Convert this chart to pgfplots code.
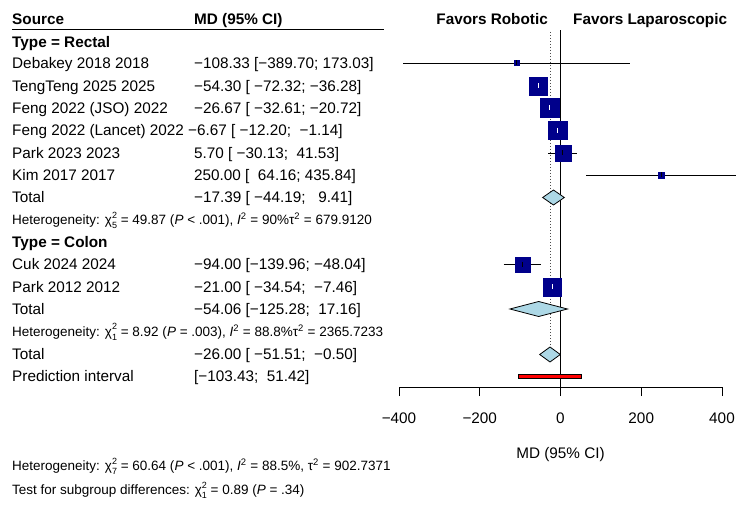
\documentclass[border=0pt]{standalone}
\usepackage{fontspec}
\setmainfont{Liberation Sans}
\usepackage{pgfplots}
\pgfplotsset{compat=1.18}

\definecolor{boxblue}{HTML}{00008B}
\definecolor{diamondblue}{HTML}{ADD8E6}

% chi-square style stacked super/subscript
\newcommand\supsub[2]{\rlap{\raisebox{0.48em}{\fontsize{9}{9}\selectfont #1}}\raisebox{-0.3em}{\fontsize{9}{9}\selectfont #2}}
\newcommand\mainfont{\fontsize{15.3}{18}\selectfont}
\newcommand\smallfont{\fontsize{13.5}{16}\selectfont}

% one study row: y, estimate, lower, upper, half box side, colour of the line inside the box
\newcommand\study[6]{%
  \addplot[black, line width=0.9pt] coordinates {(#3,#1) (#4,#1)};
  \addplot[only marks, mark=square*, mark size=#5pt,
           mark options={fill=boxblue, draw=boxblue}] coordinates {(#2,#1)};
  \addplot[#6, line width=0.9pt] coordinates {(#3,#1) (#4,#1)};
  \addplot[only marks, mark=|, mark size=2.5pt,
           mark options={draw=#6, line width=0.9pt}] coordinates {(#2,#1)};
}

\begin{document}
\begin{tikzpicture}[x=1pt, y=1pt]
\useasboundingbox (0,0) rectangle (750,512);

\begin{axis}[
  at={(399pt,125pt)}, anchor=south west,
  scale only axis, width=323pt, height=357pt,
  xmin=-400, xmax=400, ymin=125, ymax=482,
  clip=false,
  axis x line=bottom, axis y line=none,
  axis line style={-, black, line width=0.9pt},
  xtick={-400,-200,0,200,400},
  xticklabels={−400,−200,0,200,400},
  ytick=\empty,
  tick align=outside, major tick length=9pt,
  xtick style={black, line width=0.9pt},
  xticklabel style={font=\mainfont, inner sep=0pt, yshift=-17pt},
  xlabel={MD (95\% CI)},
  xlabel style={font=\mainfont, at={(axis description cs:0.5,0)}, anchor=center, yshift=-68pt},
]
% reference line at zero and dotted line at the overall estimate
\addplot[black, line width=0.9pt] coordinates {(0,125) (0,482)};
\addplot[black!70, line width=0.9pt, dash pattern=on 1pt off 2pt] coordinates {(-26,480) (-26,165)};

% Type = Rectal
\study{449}{-108.33}{-389.70}{173.03}{2.5}{black}
\study{426}{-54.30}{-72.32}{-36.28}{9}{white}
\study{404}{-26.67}{-32.61}{-20.72}{9.5}{white}
\study{381.5}{-6.67}{-12.20}{-1.14}{9.2}{white}
\study{359}{5.70}{-30.13}{41.53}{8}{black}
\study{337}{250.00}{64.16}{435.84}{3}{black}
% subgroup pooled estimate (Rectal)
\addplot[draw=black, fill=diamondblue, line width=0.8pt]
  coordinates {(-44.19,314.5) (-17.39,322) (9.41,314.5) (-17.39,307)} -- cycle;

% Type = Colon
\study{247.5}{-94.00}{-139.96}{-48.04}{7.7}{black}
\study{225}{-21.00}{-34.54}{-7.46}{9.2}{white}
% subgroup pooled estimate (Colon)
\addplot[draw=black, fill=diamondblue, line width=0.8pt]
  coordinates {(-125.28,203) (-54.06,210.5) (17.16,203) (-54.06,195.5)} -- cycle;

% overall pooled estimate
\addplot[draw=black, fill=diamondblue, line width=0.8pt]
  coordinates {(-51.51,157.5) (-26.00,165) (-0.50,157.5) (-26.00,150)} -- cycle;

% prediction interval
\addplot[draw=black, fill=red, line width=0.8pt]
  coordinates {(-103.43,133.7) (51.42,133.7) (51.42,137.7) (-103.43,137.7)} -- cycle;
\end{axis}

\begin{scope}[every node/.style={inner sep=0pt, anchor=base west, font=\mainfont}]
% header
\node[font=\mainfont\bfseries] at (12,487.5) {Source};
\node[font=\mainfont\bfseries] at (194,487.5) {MD (95\% CI)};
\draw[line width=0.9pt] (12,482.5) -- (384,482.5);
\node[font=\mainfont\bfseries, anchor=base east] at (548,487.5) {Favors Robotic};
\node[font=\mainfont\bfseries] at (573,487.5) {Favors Laparoscopic};

% Rectal
\node[font=\mainfont\bfseries] at (12,464.5) {Type = Rectal};
\node at (12,443) {Debakey 2018 2018};
\node at (194,443) {−108.33 [−389.70; 173.03]};
\node at (12,420.5) {TengTeng 2025 2025};
\node at (194,420.5) {−54.30 [\ −72.32; −36.28]};
\node at (12,398) {Feng 2022 (JSO) 2022};
\node at (194,398) {−26.67 [\ −32.61; −20.72]};
\node at (12,376) {Feng 2022 (Lancet) 2022};
\node at (188,376) {−6.67 [\ −12.20;\ \ −1.14]};
\node at (12,353.5) {Park 2023 2023};
\node at (194,353.5) {5.70 [\ −30.13;\ \ 41.53]};
\node at (12,331.5) {Kim 2017 2017};
\node at (194,331.5) {250.00 [\ \ 64.16; 435.84]};
\node at (12,309) {Total};
\node at (194,309) {−17.39 [\ −44.19;\ \ \ 9.41]};
\node[font=\smallfont] at (12,287.2) {Heterogeneity: χ\supsub{2}{5} = 49.87 (\textit{P} < .001), \textit{I}\textsuperscript{2} = 90\%τ\textsuperscript{2} = 679.9120};

% Colon
\node[font=\mainfont\bfseries] at (12,264.5) {Type = Colon};
\node at (12,242) {Cuk 2024 2024};
\node at (194,242) {−94.00 [−139.96; −48.04]};
\node at (12,219.5) {Park 2012 2012};
\node at (194,219.5) {−21.00 [\ −34.54;\ \ −7.46]};
\node at (12,197.5) {Total};
\node at (194,197.5) {−54.06 [−125.28;\ \ 17.16]};
\node[font=\smallfont] at (12,175.7) {Heterogeneity: χ\supsub{2}{1} = 8.92 (\textit{P} = .003), \textit{I}\textsuperscript{2} = 88.8\%τ\textsuperscript{2} = 2365.7233};

% overall
\node at (12,153) {Total};
\node at (194,153) {−26.00 [\ −51.51;\ \ −0.50]};
\node at (12,130.5) {Prediction interval};
\node at (194,130.5) {[−103.43;\ \ 51.42]};

% footer
\node[font=\smallfont] at (12,41.2) {Heterogeneity: χ\supsub{2}{7} = 60.64 (\textit{P} < .001), \textit{I}\textsuperscript{2} = 88.5\%, τ\textsuperscript{2} = 902.7371};
\node[font=\smallfont] at (12,17.2) {Test for subgroup differences: χ\supsub{2}{1} = 0.89 (\textit{P} = .34)};
\end{scope}
\end{tikzpicture}
\end{document}
